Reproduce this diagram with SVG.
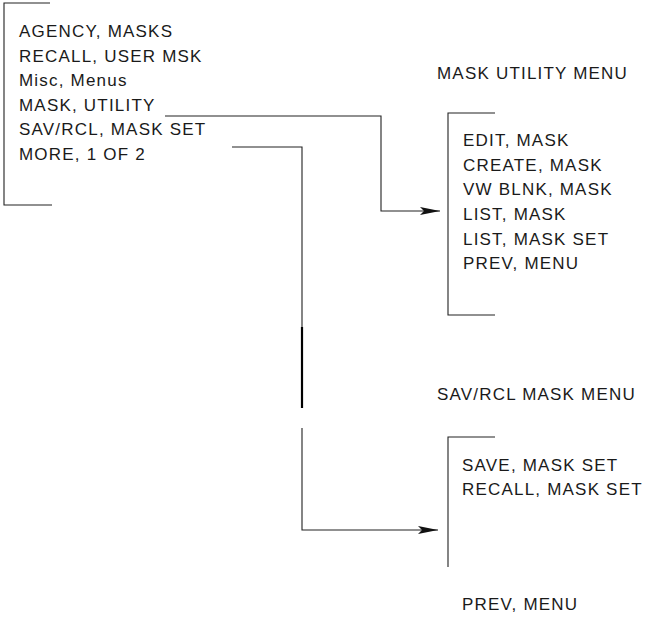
<svg xmlns="http://www.w3.org/2000/svg" width="648" height="621" viewBox="0 0 648 621">
<defs>
<style>
text{font-family:"Liberation Sans",Arial,sans-serif;font-size:17px;letter-spacing:1.2px;fill:#1a1a1a}
.br{fill:none;stroke:#222;stroke-width:1.1}
.cn{fill:none;stroke:#222;stroke-width:1.1}
.thick{fill:none;stroke:#000;stroke-width:2.2}
</style>
<marker id="ah" viewBox="0 0 20 8" refX="20" refY="4" markerWidth="20" markerHeight="8" markerUnits="userSpaceOnUse" orient="auto">
<path d="M0,0 L20,4 L0,8 L4,4 Z" fill="#111"/>
</marker>
</defs>
<rect width="648" height="621" fill="#fff"/>
<g id="main-menu">
<path class="br" d="M50,3 H4 V205 H52"/>
<text x="19" y="37">AGENCY, MASKS</text>
<text x="19" y="61.5">RECALL, USER MSK</text>
<text x="19" y="86">Misc, Menus</text>
<text x="19" y="110.5">MASK, UTILITY</text>
<text x="19" y="135">SAV/RCL, MASK SET</text>
<text x="19" y="159.5">MORE, 1 OF 2</text>
</g>
<g id="mask-utility-menu">
<text x="437" y="79">MASK UTILITY MENU</text>
<path class="br" d="M495,113 H448 V315 H495"/>
<text x="463" y="146">EDIT, MASK</text>
<text x="463" y="171">CREATE, MASK</text>
<text x="463" y="195">VW BLNK, MASK</text>
<text x="463" y="220">LIST, MASK</text>
<text x="463" y="245">LIST, MASK SET</text>
<text x="463" y="269">PREV, MENU</text>
</g>
<g id="savrcl-mask-menu">
<text x="437" y="400">SAV/RCL MASK MENU</text>
<path class="br" d="M495,437 H448 V567"/>
<text x="462" y="471">SAVE, MASK SET</text>
<text x="462" y="495">RECALL, MASK SET</text>
<text x="462" y="610">PREV, MENU</text>
</g>
<g id="connectors">
<path class="cn" d="M165,116 H381 V211 H440" marker-end="url(#ah)"/>
<path class="cn" d="M232,147 H302 V327"/>
<path class="thick" d="M302,327 V408"/>
<path class="cn" d="M302,428 V530 H438" marker-end="url(#ah)"/>
</g>
</svg>
